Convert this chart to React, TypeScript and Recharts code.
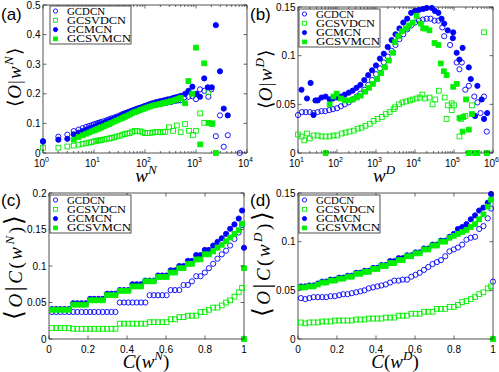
import React from "react";
import { ReferenceArea, Scatter, ScatterChart, XAxis, YAxis } from "recharts";

const BLUE = "#0000ff";
const GREEN = "#00ee00";
const INK = "#262626";

// ---- (a) <O|w^N> against w^N
const A_X = [1, 2, 3, 4, 5, 6, 7, 8, 9, 10, 11, 12, 13, 14, 16, 18, 20, 22, 25, 28, 32, 36, 40, 45, 50, 56, 63, 71, 80, 90, 100, 112, 125, 140, 160, 180, 200, 225, 250, 280, 320, 360, 400, 450, 500];
const A_GCDCN = [0.038, 0.055, 0.062, 0.074, 0.079, 0.084, 0.088, 0.091, 0.094, 0.097, 0.099, 0.101, 0.103, 0.105, 0.108, 0.111, 0.114, 0.117, 0.12, 0.123, 0.127, 0.131, 0.134, 0.137, 0.14, 0.143, 0.146, 0.149, 0.152, 0.155, 0.157, 0.159, 0.161, 0.163, 0.165, 0.166, 0.167, 0.168, 0.169, 0.171, 0.172, 0.175, 0.176, 0.178, 0.178];
const A_GCDCN_TAIL_X = [590, 710, 850, 1000, 1200, 1450, 1750, 2000, 2450, 2950, 3500, 4200, 7200];
const A_GCDCN_TAIL = [0.188, 0.19, 0.192, 0.182, 0.215, 0.21, 0.19, 0.215, 0.057, 0.127, 0.021, 0.06, 0];
const A_GCSVDCN = [0.018, 0.018, 0.022, 0.025, 0.028, 0.031, 0.033, 0.035, 0.037, 0.039, 0.041, 0.042, 0.043, 0.044, 0.046, 0.048, 0.049, 0.051, 0.053, 0.056, 0.058, 0.062, 0.064, 0.066, 0.067, 0.072, 0.075, 0.074, 0.073, 0.07, 0.067, 0.067, 0.068, 0.069, 0.071, 0.071, 0.07, 0.071, 0.072];
const A_GCSVDCN_TAIL_X = [295, 355, 420, 500, 610, 730, 870, 1000, 1210, 1450, 1750, 2040];
const A_GCSVDCN_TAIL = [0.087, 0.075, 0.093, 0.07, 0.098, 0.075, 0.061, 0.075, 0.134, 0.102, 0.206, 0.098];
const A_GCMCN = [0.04, 0.045, 0.048, 0.063, 0.069, 0.074, 0.078, 0.082, 0.085, 0.088, 0.091, 0.094, 0.096, 0.098, 0.102, 0.106, 0.109, 0.112, 0.116, 0.12, 0.124, 0.128, 0.132, 0.136, 0.139, 0.143, 0.146, 0.15, 0.153, 0.156, 0.159, 0.162, 0.165, 0.168, 0.171, 0.173, 0.175, 0.177, 0.179, 0.181, 0.183, 0.186, 0.188, 0.19, 0.193];
const A_GCMCN_TAIL_X = [610, 710, 850, 1030, 1200, 1450, 1700, 2040, 2450, 2950, 3500, 4200];
const A_GCMCN_TAIL = [0.2, 0.21, 0.224, 0.2, 0.19, 0.252, 0.222, 0.222, 0.432, 0.276, 0.15, 0.127];
const A_GCSVMCN = [0.045, 0.054, 0.06, 0.065, 0.069, 0.073, 0.076, 0.079, 0.082, 0.084, 0.087, 0.091, 0.095, 0.098, 0.102, 0.106, 0.11, 0.114, 0.118, 0.122, 0.126, 0.13, 0.134, 0.138, 0.141, 0.145, 0.148, 0.151, 0.154, 0.157, 0.16, 0.162, 0.164, 0.166, 0.168, 0.17, 0.172, 0.175, 0.177, 0.18, 0.183, 0.186];
const A_GCSVMCN_TAIL_X = [610, 710, 850, 1000, 1210, 1450, 1750, 2100, 2450];
const A_GCSVMCN_TAIL = [0.168, 0.243, 0.2, 0.356, 0.029, 0.303, 0.102, 0.1, 0];

// ---- (b) <O|w^D> against w^D
const B_GCDCN_X = [10, 12.6, 15.8, 20, 25, 32, 40, 50, 63, 79, 100, 126, 158, 200, 251, 316, 398, 501, 631, 794, 1000, 1259, 1585, 1995, 2512, 3162, 3981, 5012, 6310, 7943, 10000, 12590, 15850, 19950, 25120, 31620, 39810, 50120, 56000, 79430, 117000, 138000, 158500, 195000, 240000, 331000, 398100, 479000, 589000, 692000];
const B_GCDCN = [0.039, 0.042, 0.042, 0.042, 0.041, 0.042, 0.043, 0.043, 0.044, 0.045, 0.046, 0.048, 0.05, 0.052, 0.055, 0.058, 0.061, 0.065, 0.07, 0.075, 0.081, 0.087, 0.093, 0.099, 0.105, 0.111, 0.117, 0.122, 0.127, 0.131, 0.134, 0.136, 0.137, 0.138, 0.138, 0.136, 0.136, 0.129, 0.12, 0.111, 0.093, 0.086, 0.093, 0.065, 0.069, 0.058, 0.052, 0.041, 0.058, 0.022];
const B_GCSVDCN_X = [10, 12.3, 14.5, 17, 20, 25, 32, 40, 51, 65, 81, 102, 132, 166, 209, 269, 339, 427, 537, 692, 871, 1096, 1413, 1778, 2239, 2818, 3090, 3890, 4786, 5888, 7413, 8710, 10960, 13180, 15490, 18200, 23440, 28180, 33110, 40740, 57540, 64570, 69180, 87100, 87100, 100000, 138000, 151400, 195000, 288400, 380000, 589000, 691800];
const B_GCSVDCN = [0.019, 0.017, 0.013, 0.02, 0.015, 0.018, 0.018, 0.017, 0.017, 0.017, 0.018, 0.018, 0.02, 0.021, 0.022, 0.023, 0.025, 0.026, 0.028, 0.03, 0.033, 0.035, 0.037, 0.04, 0.042, 0.045, 0.047, 0.05, 0.052, 0.053, 0.054, 0.055, 0.056, 0.057, 0.06, 0.056, 0.057, 0.05, 0.055, 0.064, 0.057, 0.035, 0.049, 0.051, 0.044, 0.049, 0.017, 0.035, 0.038, 0.049, 0, 0.124, 0];
const B_GCMCN_X = [12.3, 17, 21, 25, 28, 32, 40, 51, 65, 79, 100, 126, 158, 200, 251, 316, 398, 501, 631, 794, 1000, 1259, 1585, 1995, 2512, 3162, 3981, 5012, 6310, 7943, 10000, 12590, 16200, 19950, 27000, 32400, 39800, 47900, 56200, 69200, 93300, 95500, 117000, 138000, 166000, 240000, 269000, 347000, 398000, 513000, 589000, 708000];
const B_GCMCN = [0.065, 0.056, 0.072, 0.039, 0.054, 0.054, 0.057, 0.058, 0.055, 0.056, 0.057, 0.058, 0.06, 0.062, 0.064, 0.067, 0.07, 0.075, 0.08, 0.085, 0.09, 0.097, 0.102, 0.109, 0.116, 0.122, 0.128, 0.134, 0.138, 0.144, 0.146, 0.147, 0.148, 0.149, 0.149, 0.146, 0.144, 0.138, 0.133, 0.126, 0.118, 0.124, 0.103, 0.096, 0.108, 0.088, 0.076, 0.038, 0.069, 0.055, 0.035, 0.041];
const B_GCSVMCN_X = [51, 65, 81, 98, 126, 158, 200, 257, 324, 407, 525, 661, 832, 1072, 1349, 1698, 2138, 2754, 3090, 3715, 4571, 5888, 7079, 8710, 10960, 14130, 16220, 19050, 23440, 31620, 39810, 45710, 54950, 64570, 95500, 117500, 138000, 166000, 173800, 204200, 240000, 240000, 288400, 346700, 398100, 691800];
const B_GCSVMCN = [0, 0.05, 0.058, 0.061, 0.056, 0.054, 0.054, 0.055, 0.057, 0.059, 0.063, 0.067, 0.071, 0.076, 0.082, 0.088, 0.095, 0.103, 0.114, 0.12, 0.125, 0.128, 0.131, 0.134, 0.141, 0.133, 0.128, 0.128, 0.126, 0.113, 0.111, 0.092, 0.084, 0.08, 0.068, 0.071, 0.036, 0.022, 0.037, 0.055, 0.024, 0, 0.04, 0, 0, 0];

// ---- (c) and (d): against the cumulative C(w)
const C_X = [0.015, 0.037, 0.058, 0.08, 0.102, 0.124, 0.145, 0.167, 0.189, 0.211, 0.232, 0.254, 0.276, 0.298, 0.32, 0.341, 0.363, 0.385, 0.407, 0.428, 0.45, 0.472, 0.494, 0.516, 0.537, 0.559, 0.581, 0.603, 0.624, 0.646, 0.668, 0.69, 0.712, 0.733, 0.755, 0.777, 0.799, 0.82, 0.842, 0.864, 0.886, 0.908, 0.929, 0.951, 0.973, 0.99];
const C_GCDCN = [0.037, 0.037, 0.037, 0.037, 0.037, 0.037, 0.037, 0.037, 0.037, 0.037, 0.037, 0.037, 0.037, 0.037, 0.037, 0.037, 0.05, 0.05, 0.05, 0.05, 0.05, 0.05, 0.05, 0.06, 0.06, 0.06, 0.06, 0.06, 0.067, 0.067, 0.067, 0.074, 0.074, 0.079, 0.086, 0.086, 0.091, 0.097, 0.103, 0.11, 0.116, 0.121, 0.128, 0.137, 0.146, 0.156];
const C_GCSVDCN = [0.015, 0.015, 0.015, 0.015, 0.015, 0.014, 0.014, 0.014, 0.014, 0.014, 0.014, 0.014, 0.014, 0.014, 0.014, 0.014, 0.021, 0.021, 0.021, 0.021, 0.021, 0.021, 0.021, 0.023, 0.023, 0.023, 0.023, 0.023, 0.027, 0.027, 0.03, 0.03, 0.032, 0.032, 0.032, 0.037, 0.037, 0.04, 0.043, 0.043, 0.046, 0.05, 0.053, 0.058, 0.064, 0.07];
const C_GCMCN = [0.041, 0.041, 0.041, 0.041, 0.041, 0.049, 0.049, 0.049, 0.049, 0.055, 0.055, 0.055, 0.055, 0.062, 0.062, 0.062, 0.067, 0.067, 0.067, 0.075, 0.075, 0.075, 0.08, 0.08, 0.08, 0.087, 0.087, 0.087, 0.094, 0.094, 0.1, 0.1, 0.107, 0.107, 0.115, 0.115, 0.122, 0.122, 0.128, 0.133, 0.138, 0.144, 0.151, 0.157, 0.165, 0.176];
const C_GCSVMCN = [0.04, 0.04, 0.04, 0.04, 0.04, 0.047, 0.047, 0.047, 0.047, 0.053, 0.053, 0.053, 0.053, 0.06, 0.06, 0.06, 0.066, 0.066, 0.066, 0.072, 0.072, 0.072, 0.079, 0.079, 0.079, 0.085, 0.085, 0.085, 0.091, 0.091, 0.097, 0.097, 0.103, 0.103, 0.109, 0.109, 0.116, 0.116, 0.12, 0.125, 0.129, 0.134, 0.139, 0.144, 0.149, 0.158];
const C_GCMCN_END = [{ x: 1, y: 0.125 }];
const C_GCSVMCN_END = [{ x: 1, y: 0.097 }, { x: 1, y: 0 }];

const D_GCDCN = [0.042, 0.041, 0.042, 0.043, 0.043, 0.043, 0.043, 0.044, 0.044, 0.045, 0.046, 0.046, 0.047, 0.048, 0.049, 0.05, 0.052, 0.053, 0.054, 0.055, 0.056, 0.058, 0.06, 0.06, 0.061, 0.061, 0.064, 0.066, 0.068, 0.071, 0.074, 0.077, 0.079, 0.081, 0.085, 0.09, 0.092, 0.094, 0.097, 0.102, 0.104, 0.105, 0.113, 0.116, 0.124, 0.134];
const D_GCSVDCN = [0.017, 0.016, 0.017, 0.017, 0.017, 0.018, 0.018, 0.018, 0.019, 0.019, 0.019, 0.019, 0.019, 0.02, 0.02, 0.02, 0.021, 0.021, 0.021, 0.021, 0.022, 0.022, 0.022, 0.024, 0.024, 0.024, 0.026, 0.026, 0.026, 0.028, 0.028, 0.028, 0.031, 0.031, 0.031, 0.033, 0.033, 0.035, 0.038, 0.039, 0.041, 0.043, 0.046, 0.048, 0.052, 0.054];
const D_GCMCN = [0.054, 0.054, 0.055, 0.055, 0.057, 0.059, 0.059, 0.061, 0.061, 0.063, 0.063, 0.065, 0.065, 0.068, 0.068, 0.07, 0.07, 0.073, 0.073, 0.076, 0.076, 0.08, 0.08, 0.083, 0.083, 0.086, 0.086, 0.089, 0.089, 0.093, 0.093, 0.097, 0.097, 0.101, 0.101, 0.105, 0.108, 0.113, 0.115, 0.118, 0.123, 0.127, 0.132, 0.135, 0.14, 0.149];
const D_GCSVMCN = [0.053, 0.053, 0.054, 0.054, 0.056, 0.058, 0.058, 0.06, 0.06, 0.062, 0.062, 0.064, 0.064, 0.067, 0.067, 0.069, 0.069, 0.072, 0.072, 0.075, 0.075, 0.078, 0.078, 0.081, 0.081, 0.085, 0.085, 0.088, 0.088, 0.092, 0.092, 0.096, 0.096, 0.1, 0.1, 0.104, 0.106, 0.108, 0.11, 0.112, 0.115, 0.118, 0.123, 0.128, 0.136, 0.143];
const D_GCDCN_END = [{ x: 1, y: 0.059 }];
const D_GCSVMCN_END = [{ x: 1, y: 0 }];

const C_TICKS = [0, 0.2, 0.4, 0.6, 0.8, 1];

type Pt = { x: number; y: number };
const pts = (xs: number[], ys: number[]): Pt[] => ys.map((y, i) => ({ x: xs[i], y }));

type Kind = { name: string; shape: "circle" | "square"; filled: boolean; color: string; legendW: number };
const KINDS: Kind[] = [
  { name: "GCDCN", shape: "circle", filled: false, color: BLUE, legendW: 38 },
  { name: "GCSVDCN", shape: "square", filled: false, color: GREEN, legendW: 59 },
  { name: "GCMCN", shape: "circle", filled: true, color: BLUE, legendW: 45 },
  { name: "GCSVMCN", shape: "square", filled: true, color: GREEN, legendW: 64 },
];

// tick positions on a log axis (1..9 per decade)
function logTicks(lo: number, hi: number) {
  const out: number[] = [];
  for (let e = lo; e < hi; e++) for (let m = 1; m < 10; m++) out.push(m * Math.pow(10, e));
  out.push(Math.pow(10, hi));
  return out;
}

function Mark({ cx, cy, k, r = 2.6 }: { cx: number; cy: number; k: Kind; r?: number }) {
  if (cx == null || cy == null || isNaN(cx) || isNaN(cy)) return <g />;
  const fill = k.filled ? k.color : "none";
  return k.shape === "circle" ? (
    <circle cx={cx} cy={cy} r={r} fill={fill} stroke={k.color} strokeWidth={0.9} />
  ) : (
    <rect x={cx - r + 0.2} y={cy - r + 0.2} width={2 * r - 0.4} height={2 * r - 0.4} fill={fill} stroke={k.color} strokeWidth={0.9} />
  );
}

type Box = { l: number; r: number; t: number; b: number };
const W = 250;
const H = 186;
const TICK_FONT = "'Liberation Sans', Arial, sans-serif";
const SERIF = "'Liberation Serif', 'Times New Roman', serif";

interface PanelProps {
  left: number;
  top: number;
  letter: string;
  box: Box;
  log: boolean;
  xDomain: [number, number];
  xTicks: number[];
  yDomain: [number, number];
  yTicks: number[];
  series: Pt[][];
  xLabel: React.ReactNode;
  xLabelX: number;
  yLabel: React.ReactNode;
  yLabelX: number;
  yLabelY: number;
  yLabelSpacing: number;
  legendTop: number;
}

function Panel(p: PanelProps) {
  const g = p.box;
  const isMajor = (v: number) => !p.log || Math.abs(Math.log10(v) - Math.round(Math.log10(v))) < 1e-9;

  const xTick = (t: any) => {
    const v = t.payload.value as number;
    const x = t.x as number;
    const major = isMajor(v);
    const len = major ? 3.5 : 2;
    return (
      <g>
        <line x1={x} x2={x} y1={g.b} y2={g.b - len} stroke={INK} strokeWidth={0.7} />
        <line x1={x} x2={x} y1={g.t} y2={g.t + len} stroke={INK} strokeWidth={0.7} />
        {major &&
          (p.log ? (
            <text x={x - 1.5} y={g.b + 14} textAnchor="middle" fontFamily={TICK_FONT} fontSize={10} fill="#000">
              10
              <tspan dy={-5.5} fontSize={7}>
                {Math.round(Math.log10(v))}
              </tspan>
            </text>
          ) : (
            <text x={x} y={g.b + 14} textAnchor="middle" fontFamily={TICK_FONT} fontSize={10} fill="#000">
              {String(v)}
            </text>
          ))}
      </g>
    );
  };

  const yTick = (t: any) => {
    const v = t.payload.value as number;
    const y = t.y as number;
    return (
      <g>
        <line x1={g.l} x2={g.l + 3.5} y1={y} y2={y} stroke={INK} strokeWidth={0.7} />
        <line x1={g.r} x2={g.r - 3.5} y1={y} y2={y} stroke={INK} strokeWidth={0.7} />
        <text x={g.l - 2.5} y={y + 3.5} textAnchor="end" fontFamily={TICK_FONT} fontSize={10} fill="#000">
          {String(v)}
        </text>
      </g>
    );
  };

  return (
    <div style={{ position: "absolute", left: p.left, top: p.top, width: W, height: H }}>
      <ScatterChart width={W} height={H} margin={{ top: g.t, right: W - g.r, bottom: 0, left: 0 }}>
        <XAxis
          type="number"
          dataKey="x"
          scale={p.log ? "log" : "linear"}
          domain={p.xDomain}
          ticks={p.xTicks}
          interval={0}
          tick={xTick}
          tickLine={false}
          axisLine={false}
          height={H - g.b}
        />
        <YAxis
          type="number"
          dataKey="y"
          domain={p.yDomain}
          ticks={p.yTicks}
          interval={0}
          tick={yTick}
          tickLine={false}
          axisLine={false}
          width={g.l}
        />
        <ReferenceArea
          x1={p.xDomain[0]}
          x2={p.xDomain[1]}
          y1={p.yDomain[0]}
          y2={p.yDomain[1]}
          fill="none"
          stroke={INK}
          strokeWidth={0.8}
        />
        {p.series.map((d, i) => (
          <Scatter
            key={KINDS[i].name}
            data={d}
            isAnimationActive={false}
            shape={(s: any) => <Mark cx={s.cx} cy={s.cy} k={KINDS[i]} />}
          />
        ))}
      </ScatterChart>
      <svg width={W} height={H} style={{ position: "absolute", left: 0, top: 0, pointerEvents: "none", overflow: "visible" }}>
        <text x={1} y={20} fontFamily={TICK_FONT} fontSize={17} fill="#000">
          {p.letter}
        </text>
        <text x={p.xLabelX} y={182} textAnchor="middle" fontFamily={SERIF} fontSize={19} fill="#000">
          {p.xLabel}
        </text>
        <text
          transform={`translate(${p.yLabelX},${p.yLabelY}) rotate(-90)`}
          textAnchor="middle"
          fontFamily={SERIF}
          fontSize={19}
          letterSpacing={p.yLabelSpacing}
          fill="#000"
        >
          {p.yLabel}
        </text>
        <g transform={`translate(50,${p.legendTop})`}>
          <rect x={0} y={0} width={81} height={38} fill="#fff" stroke={INK} strokeWidth={0.8} />
          {KINDS.map((k, i) => (
            <g key={k.name}>
              <Mark cx={5.5} cy={5 + i * 9.3} k={k} r={2.1} />
              <text
                x={17}
                y={8.5 + i * 9.3}
                fontFamily={SERIF}
                fontSize={10.5}
                textLength={k.legendW}
                lengthAdjust="spacingAndGlyphs"
                fill="#000"
              >
                {k.name}
              </text>
            </g>
          ))}
        </g>
      </svg>
    </div>
  );
}

export default function App() {
  const A = [
    pts(A_X, A_GCDCN).concat(pts(A_GCDCN_TAIL_X, A_GCDCN_TAIL)),
    pts(A_X, A_GCSVDCN).concat(pts(A_GCSVDCN_TAIL_X, A_GCSVDCN_TAIL)),
    pts(A_X, A_GCMCN).concat(pts(A_GCMCN_TAIL_X, A_GCMCN_TAIL)),
    pts(A_X.slice(3), A_GCSVMCN).concat(pts(A_GCSVMCN_TAIL_X, A_GCSVMCN_TAIL)),
  ];
  const B = [
    pts(B_GCDCN_X, B_GCDCN),
    pts(B_GCSVDCN_X, B_GCSVDCN),
    pts(B_GCMCN_X, B_GCMCN),
    pts(B_GCSVMCN_X, B_GCSVMCN),
  ];
  const C = [
    pts(C_X, C_GCDCN),
    pts(C_X, C_GCSVDCN),
    pts(C_X, C_GCMCN).concat(C_GCMCN_END),
    pts(C_X, C_GCSVMCN).concat(C_GCSVMCN_END),
  ];
  const D = [
    pts(C_X, D_GCDCN).concat(D_GCDCN_END),
    pts(C_X, D_GCSVDCN),
    pts(C_X, D_GCMCN),
    pts(C_X, D_GCSVMCN).concat(D_GCSVMCN_END),
  ];

  const wLabel = (s: string) => (
    <>
      <tspan fontStyle="italic">w</tspan>
      <tspan dy={-8} fontSize={13} fontStyle="italic">
        {s}
      </tspan>
    </>
  );
  const cLabel = (s: string) => (
    <>
      <tspan fontStyle="italic">C</tspan>
      <tspan>(</tspan>
      <tspan fontStyle="italic">w</tspan>
      <tspan dy={-8} fontSize={13} fontStyle="italic">
        {s}
      </tspan>
      <tspan dy={8}>)</tspan>
    </>
  );
  const oLabel = (s: string) => (
    <>
      <tspan>⟨</tspan>
      <tspan fontStyle="italic">O</tspan>
      <tspan>|</tspan>
      <tspan fontStyle="italic">w</tspan>
      <tspan dy={-8} fontSize={13} fontStyle="italic">
        {s}
      </tspan>
      <tspan dy={8}>⟩</tspan>
    </>
  );
  const ocLabel = (s: string) => (
    <>
      <tspan fontSize={25}>⟨</tspan>
      <tspan fontStyle="italic">O</tspan>
      <tspan fontSize={25}>|</tspan>
      <tspan fontStyle="italic">C</tspan>
      <tspan>(</tspan>
      <tspan fontStyle="italic">w</tspan>
      <tspan dy={-8} fontSize={13} fontStyle="italic">
        {s}
      </tspan>
      <tspan dy={8}>)</tspan>
      <tspan fontSize={25}>⟩</tspan>
    </>
  );

  return (
    <div
      style={{
        position: "absolute",
        left: 0,
        top: 0,
        width: 499,
        height: 372,
        background: "#fff",
        overflow: "hidden",
      }}
    >
      <style>{`.recharts-surface { overflow: visible; }`}</style>
      <Panel
        left={0}
        top={0}
        letter="(a)"
        box={{ l: 43, r: 247, t: 5, b: 153 }}
        log
        xDomain={[1, 10000]}
        xTicks={logTicks(0, 4)}
        yDomain={[0, 0.5]}
        yTicks={[0, 0.1, 0.2, 0.3, 0.4, 0.5]}
        series={A}
        xLabel={wLabel("N")}
        xLabelX={146}
        yLabel={oLabel("N")}
        yLabelX={21}
        yLabelY={77}
        yLabelSpacing={1.2}
        legendTop={6}
      />
      <Panel
        left={249}
        top={0}
        letter="(b)"
        box={{ l: 49, r: 244, t: 7, b: 153 }}
        log
        xDomain={[10, 1000000]}
        xTicks={logTicks(1, 6)}
        yDomain={[0, 0.15]}
        yTicks={[0, 0.05, 0.1, 0.15]}
        series={B}
        xLabel={wLabel("D")}
        xLabelX={135}
        yLabel={oLabel("D")}
        yLabelX={23}
        yLabelY={79}
        yLabelSpacing={1.2}
        legendTop={9}
      />
      <Panel
        left={0}
        top={186}
        letter="(c)"
        box={{ l: 49, r: 244, t: 7, b: 153 }}
        log={false}
        xDomain={[0, 1]}
        xTicks={C_TICKS}
        yDomain={[0, 0.2]}
        yTicks={[0, 0.05, 0.1, 0.15, 0.2]}
        series={C}
        xLabel={cLabel("N")}
        xLabelX={146}
        yLabel={ocLabel("N")}
        yLabelX={22}
        yLabelY={80}
        yLabelSpacing={2.5}
        legendTop={9}
      />
      <Panel
        left={249}
        top={186}
        letter="(d)"
        box={{ l: 49, r: 244, t: 7, b: 153 }}
        log={false}
        xDomain={[0, 1]}
        xTicks={C_TICKS}
        yDomain={[0, 0.15]}
        yTicks={[0, 0.05, 0.1, 0.15]}
        series={D}
        xLabel={cLabel("D")}
        xLabelX={146}
        yLabel={ocLabel("D")}
        yLabelX={21}
        yLabelY={77}
        yLabelSpacing={2.5}
        legendTop={9}
      />
    </div>
  );
}
